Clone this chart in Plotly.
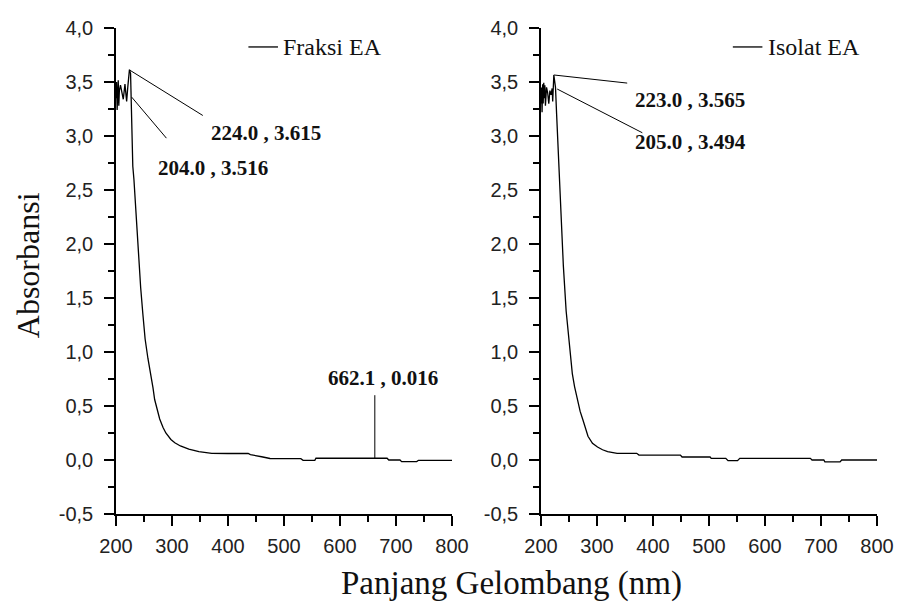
import plotly.graph_objects as go

# ---- data ----
wl_fraksi = [200, 201, 202, 203, 204, 205, 206, 208, 210, 213, 216, 219, 221, 224, 226, 228, 230,
             232, 234, 236.5, 239, 241, 244, 248, 252, 257, 262, 266, 269, 274, 278, 284, 289, 298,
             305, 315, 330, 348, 371, 400, 436, 440, 454, 460, 475, 530, 534, 555, 557, 662.1, 684,
             687, 707, 710, 737, 740, 800]
abs_fraksi = [3.35, 3.50, 3.24, 3.48, 3.516, 3.28, 3.42, 3.47, 3.40, 3.34, 3.48, 3.32, 3.45, 3.615,
              3.58, 2.95, 2.72, 2.60, 2.42, 2.25, 1.98, 1.78, 1.60, 1.35, 1.12, 0.94, 0.80, 0.67,
              0.56, 0.45, 0.38, 0.30, 0.25, 0.19, 0.16, 0.13, 0.10, 0.077, 0.062, 0.06, 0.06, 0.05,
              0.031, 0.03, 0.014, 0.012, -0.003, -0.003, 0.016, 0.016, 0.016, 0.0, 0.0, -0.015,
              -0.015, -0.003, -0.003]

wl_isolat = [200, 201, 202, 203, 204, 205, 206, 207, 208, 210, 212, 214, 216, 218, 220, 221, 223,
             226, 228, 231, 234, 238, 240, 245, 249, 252, 256, 260, 266, 270, 275, 280, 284, 292,
             301, 310, 319, 336, 371, 375, 449, 452, 502, 504, 530, 534, 551, 555, 681, 684, 705,
             707, 734, 737, 800]
abs_isolat = [3.30, 3.45, 3.22, 3.48, 3.30, 3.494, 3.35, 3.47, 3.28, 3.45, 3.40, 3.30, 3.42, 3.38,
              3.44, 3.32, 3.565, 3.45, 3.20, 2.85, 2.47, 2.15, 1.80, 1.38, 1.15, 0.97, 0.80, 0.68,
              0.54, 0.45, 0.37, 0.28, 0.22, 0.155, 0.12, 0.095, 0.077, 0.062, 0.062, 0.046, 0.046,
              0.028, 0.028, 0.015, 0.015, -0.006, -0.006, 0.015, 0.015, 0.0, 0.0, -0.018, -0.018,
              0.0, 0.0]

series_names = ["Fraksi EA", "Isolat EA"]

x_tickvals = [200, 300, 400, 500, 600, 700, 800]
y_tickvals = [-0.5, 0.0, 0.5, 1.0, 1.5, 2.0, 2.5, 3.0, 3.5, 4.0]
y_ticktext = ["-0,5", "0,0", "0,5", "1,0", "1,5", "2,0", "2,5", "3,0", "3,5", "4,0"]

# peak labels: (axis, peak x, peak y, leader end x, leader end y, label x, label y, text)
peak_labels = [
    ("", 224.5, 3.61, 355, 3.19, 468, 3.03, "224.0 , 3.615"),
    ("", 228, 3.36, 290, 2.98, 373, 2.70, "204.0 , 3.516"),
    ("", 662.1, 0.016, 662.1, 0.60, 676, 0.76, "662.1 , 0.016"),
    ("2", 223, 3.565, 354, 3.49, 467, 3.333, "223.0 , 3.565"),
    ("2", 229, 3.435, 381, 3.03, 467, 2.944, "205.0 , 3.494"),
]

SERIF = "Liberation Serif, Times New Roman, serif"
SANS = "Liberation Sans, Arial, sans-serif"

fig = go.Figure()
fig.add_trace(go.Scatter(x=wl_fraksi, y=abs_fraksi, mode="lines", name=series_names[0],
                         line=dict(color="black", width=1.3), xaxis="x", yaxis="y",
                         showlegend=False))
fig.add_trace(go.Scatter(x=wl_isolat, y=abs_isolat, mode="lines", name=series_names[1],
                         line=dict(color="black", width=1.3), xaxis="x2", yaxis="y2",
                         showlegend=False))

axis_common = dict(showline=True, linecolor="black", linewidth=1.5, ticks="outside",
                   ticklen=10, tickwidth=1.5, tickcolor="black", showgrid=False, zeroline=False,
                   tickfont=dict(family=SANS, size=20, color="#222"))

xa = dict(axis_common, range=[200, 800], tickvals=x_tickvals, ticklabelstandoff=3,
          ticklabeloverflow="allow",
          minor=dict(ticks="outside", ticklen=6, tickwidth=1.5, tickcolor="black", dtick=50,
                     tick0=200, showgrid=False))
ya = dict(axis_common, range=[-0.5, 4.0], tickvals=y_tickvals, ticktext=y_ticktext,
          minor=dict(ticks="outside", ticklen=6, tickwidth=1.5, tickcolor="black", dtick=0.25,
                     tick0=0, showgrid=False), ticklabelstandoff=7)

shapes = []
annotations = []
for ax, px, py, ex, ey, lx, ly, txt in peak_labels:
    shapes.append(dict(type="line", xref="x" + ax, yref="y" + ax, x0=px, y0=py, x1=ex, y1=ey,
                       line=dict(color="black", width=1)))
    annotations.append(dict(xref="x" + ax, yref="y" + ax, x=lx, y=ly, text="<b>" + txt + "</b>",
                            showarrow=False, font=dict(family=SERIF, size=21, color="#111")))

# legends (sample line + text) inside each panel
for ax, name, x0 in [("", series_names[0], 0.394), ("2", series_names[1], 0.571)]:
    shapes.append(dict(type="line", xref="x" + ax + " domain", yref="y" + ax + " domain",
                       x0=x0, x1=x0 + 0.088, y0=0.961, y1=0.961,
                       line=dict(color="black", width=1.3)))
    annotations.append(dict(xref="x" + ax + " domain", yref="y" + ax + " domain",
                            x=x0 + 0.098, y=0.961, xanchor="left", yanchor="middle",
                            text=name, showarrow=False,
                            font=dict(family=SERIF, size=24, color="#111")))

# axis titles
annotations.append(dict(xref="paper", yref="paper", x=0.5195, y=-0.142, xanchor="center",
                        yanchor="middle", text="Panjang Gelombang (nm)", showarrow=False,
                        font=dict(family=SERIF, size=33, color="#111")))
annotations.append(dict(xref="paper", yref="paper", x=-0.1156, y=0.512, xanchor="center",
                        yanchor="middle", text="Absorbansi", textangle=-90, showarrow=False,
                        font=dict(family=SERIF, size=32, color="#111")))

fig.update_layout(
    width=906, height=608,
    margin=dict(l=116, r=20, t=28, b=94),
    paper_bgcolor="white", plot_bgcolor="white",
    xaxis=dict(xa, domain=[0, 0.4416], anchor="y"),
    yaxis=dict(ya, anchor="x"),
    xaxis2=dict(xa, domain=[0.5584, 1], anchor="y2"),
    yaxis2=dict(ya, anchor="x2"),
    shapes=shapes,
    annotations=annotations,
)

fig.write_html("out.html",
               config={"displayModeBar": False},
               post_script="document.body.style.margin='0';document.body.style.overflow='hidden';")
